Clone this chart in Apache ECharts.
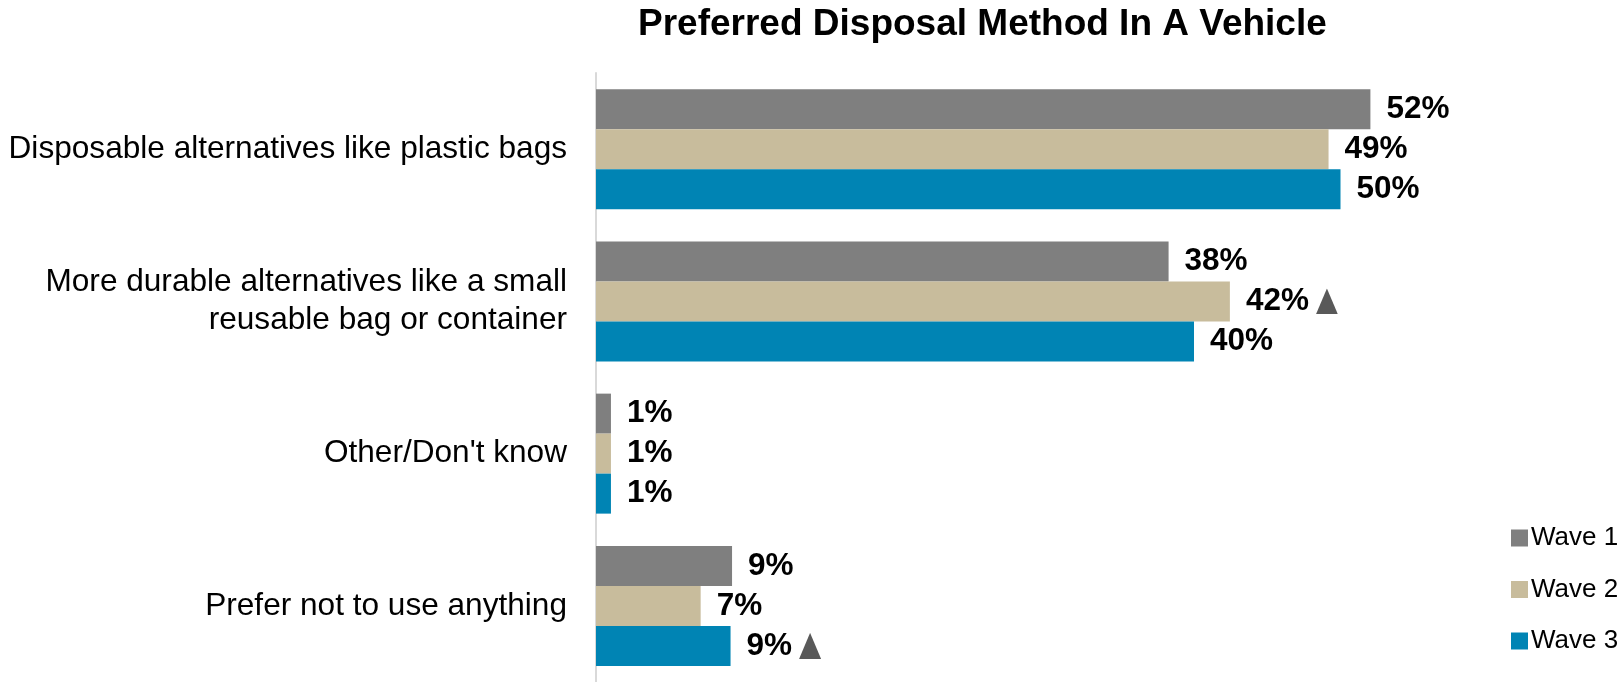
<!DOCTYPE html>
<html>
<head>
<meta charset="utf-8">
<script src="https://cdn.jsdelivr.net/npm/echarts@6/dist/echarts.min.js"></script>
<style>html,body{margin:0;padding:0;background:#fff}#c{width:1622px;height:682px}</style>
</head>
<body>
<div id="c"></div>
<script>
const title = 'Preferred Disposal Method In A Vehicle';
const categories = ['Disposable alternatives like plastic bags', 'More durable alternatives like a small\nreusable bag or container', "Other/Don't know", 'Prefer not to use anything'];
const seriesNames = ['Wave 1', 'Wave 2', 'Wave 3'];
const wave1 = [51.8, 38.3, 1.0, 9.1];
const wave2 = [49.0, 42.4, 1.0, 7.0];
const wave3 = [49.8, 40.0, 1.0, 9.0];
// significance markers (triangle) per series
const sig1 = [false, false, false, false];
const sig2 = [false, true, false, false];
const sig3 = [false, false, false, true];
const colors = ['#7f7f7f', '#c8bc9c', '#0084b4'];

const FONT = "'Liberation Sans', Arial, sans-serif";
const triSvg = 'data:image/svg+xml;utf8,' + encodeURIComponent('<svg xmlns="http://www.w3.org/2000/svg" width="22" height="26" viewBox="0 0 22 26"><polygon points="11,0 22,26 0,26" fill="#595959"/></svg>');
const triImg = new Image();
triImg.src = triSvg;

function mkSeries(name, data, sig, color) {
  return {
    name: name, type: 'bar', data: data, barWidth: 40, barGap: '0%',
    itemStyle: { color: color },
    label: {
      show: true, position: 'right', distance: 16,
      formatter: p => '{v|' + Math.round(p.value) + '%}' + (sig[p.dataIndex] ? '{g|}{t|}' : ''),
      rich: {
        v: { fontFamily: FONT, fontSize: 31.5, fontWeight: 'bold', color: '#000' },
        g: { width: 7 },
        t: { width: 22, height: 26, backgroundColor: { image: triImg } }
      }
    }
  };
}

const chart = echarts.init(document.getElementById('c'), null, { renderer: 'canvas' });
chart.setOption({
  animation: false,
  backgroundColor: '#fff',
  title: { text: title, left: 633, top: 1, textStyle: { fontFamily: FONT, fontSize: 37, fontWeight: 'bold', color: '#000' } },
  legend: {
    orient: 'vertical', left: 1506, top: 520, itemWidth: 17, itemHeight: 17, itemGap: 25.5,
    icon: 'rect', data: seriesNames,
    textStyle: { fontFamily: FONT, fontSize: 26, color: '#000', lineHeight: 26, padding: [0, 0, 0, -2] }
  },
  grid: { left: 596, top: 73, width: 897, height: 610, containLabel: false },
  xAxis: { type: 'value', min: 0, max: 60, show: false },
  yAxis: {
    type: 'category', data: categories, inverse: true,
    axisLine: { show: true, lineStyle: { color: '#d9d9d9', width: 2 } },
    axisTick: { show: false },
    axisLabel: { margin: 29, fontFamily: FONT, fontSize: 31.6, color: '#000', lineHeight: 38, align: 'right' }
  },
  series: [
    mkSeries(seriesNames[0], wave1, sig1, colors[0]),
    mkSeries(seriesNames[1], wave2, sig2, colors[1]),
    mkSeries(seriesNames[2], wave3, sig3, colors[2])
  ]
});
triImg.onload = () => chart.setOption({});
</script>
</body>
</html>
